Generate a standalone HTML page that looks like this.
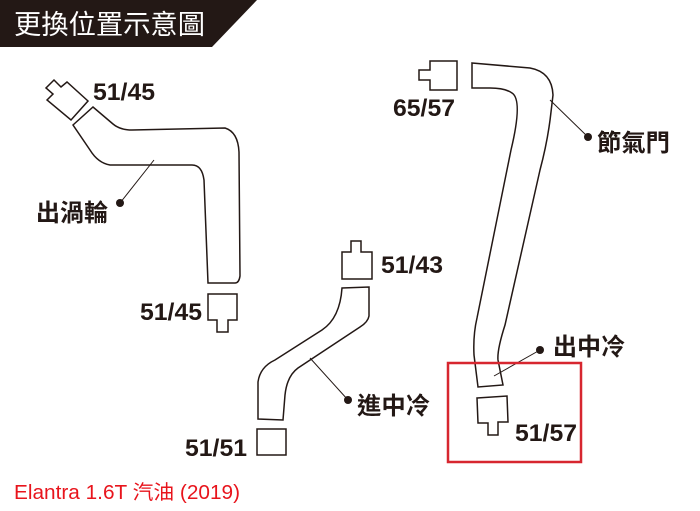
<!DOCTYPE html>
<html><head><meta charset="utf-8"><style>
html,body{margin:0;padding:0;background:#fff;}
svg{display:block}
.l{font-family:"Liberation Sans","Noto Sans CJK TC",sans-serif;font-weight:bold;fill:#231815;font-size:24px}
.c{font-family:"Noto Sans CJK TC",sans-serif;font-weight:bold;fill:#231815;font-size:24px}
</style></head><body>
<svg width="700" height="511" viewBox="0 0 700 511" xmlns="http://www.w3.org/2000/svg">
<polygon points="0,0 257,0 212,47 0,47" fill="#231815"/>
<text x="14" y="34" fill="#fff" font-family="'Noto Sans CJK TC',sans-serif" font-size="27" textLength="191" lengthAdjust="spacingAndGlyphs">更換位置示意圖</text>
<g fill="none" stroke="#231815" stroke-width="1.5">
<polygon points="47,100 53,94 46,88 54,80 61,87 67,82 88,101 71,120"/>
<path d="M73,125 L93,107 L113,124 Q120,130 132,130 L225,128 Q238,132 239,152 L240,276 Q239,283 235,283 L208,283 L204,180 Q202,165 192,165 L110,165 Q98,163 90,150 Z"/>
<polygon points="208,294 237,294 237,320 228,320 228,332 217,332 217,320 208,320"/>
<polygon points="351,241 361,241 361,252 372,252 372,279 342,279 342,252 351,252"/>
<path d="M342,288 L369,287 L369,316 Q368,322 360,327 L298,368 Q287,376 285,395 L283,420 L258,419 L258,382 Q260,367 275,360 L322,330 Q340,318 342,288 Z"/>
<rect x="257" y="429" width="29" height="26"/>
<polygon points="430,61 457,61 457,90 430,90 430,80 419,80 419,70 430,70"/>
<path d="M472,63 L530,68 Q552,72 553,95 L551,112 Q548,140 540,170 L505,325 Q497,350 498,360 L503,385 L478,387 L474,355 Q473,335 477,318 L511,150 Q523,100 512,93 Q505,88 490,88 L472,88 Z"/>
<polygon points="477,398 507,396 508,422 498,422 498,435 488,435 488,423 478,423"/>
</g>
<g stroke="#231815" stroke-width="1">
<line x1="154" y1="160" x2="120" y2="203"/>
<line x1="310" y1="358" x2="348" y2="400"/>
<line x1="550" y1="100" x2="588" y2="137"/>
<line x1="494" y1="376" x2="540" y2="350"/>
</g>
<g fill="#231815">
<circle cx="120" cy="203" r="4"/><circle cx="348" cy="400" r="4"/><circle cx="588" cy="137" r="4"/><circle cx="540" cy="350" r="4"/>
</g>
<text class="l" x="93" y="100" textLength="62" lengthAdjust="spacingAndGlyphs">51/45</text>
<text class="c" x="36" y="221" textLength="72" lengthAdjust="spacingAndGlyphs">出渦輪</text>
<text class="l" x="140" y="320" textLength="62" lengthAdjust="spacingAndGlyphs">51/45</text>
<text class="l" x="381" y="273" textLength="62" lengthAdjust="spacingAndGlyphs">51/43</text>
<text class="c" x="357" y="414" textLength="73" lengthAdjust="spacingAndGlyphs">進中冷</text>
<text class="l" x="185" y="456" textLength="62" lengthAdjust="spacingAndGlyphs">51/51</text>
<text class="l" x="393" y="116" textLength="62" lengthAdjust="spacingAndGlyphs">65/57</text>
<text class="c" x="597" y="151" textLength="73" lengthAdjust="spacingAndGlyphs">節氣門</text>
<text class="c" x="553" y="355" textLength="72" lengthAdjust="spacingAndGlyphs">出中冷</text>
<text class="l" x="515" y="441" textLength="62" lengthAdjust="spacingAndGlyphs">51/57</text>
<rect x="448" y="363" width="133" height="99" fill="none" stroke="#d7262f" stroke-width="2.5"/>
<text x="14" y="499" fill="#e8141c" font-family="'Liberation Sans','Noto Sans CJK TC',sans-serif" font-size="20" textLength="226" lengthAdjust="spacingAndGlyphs">Elantra 1.6T 汽油 (2019)</text>
</svg>
</body></html>
